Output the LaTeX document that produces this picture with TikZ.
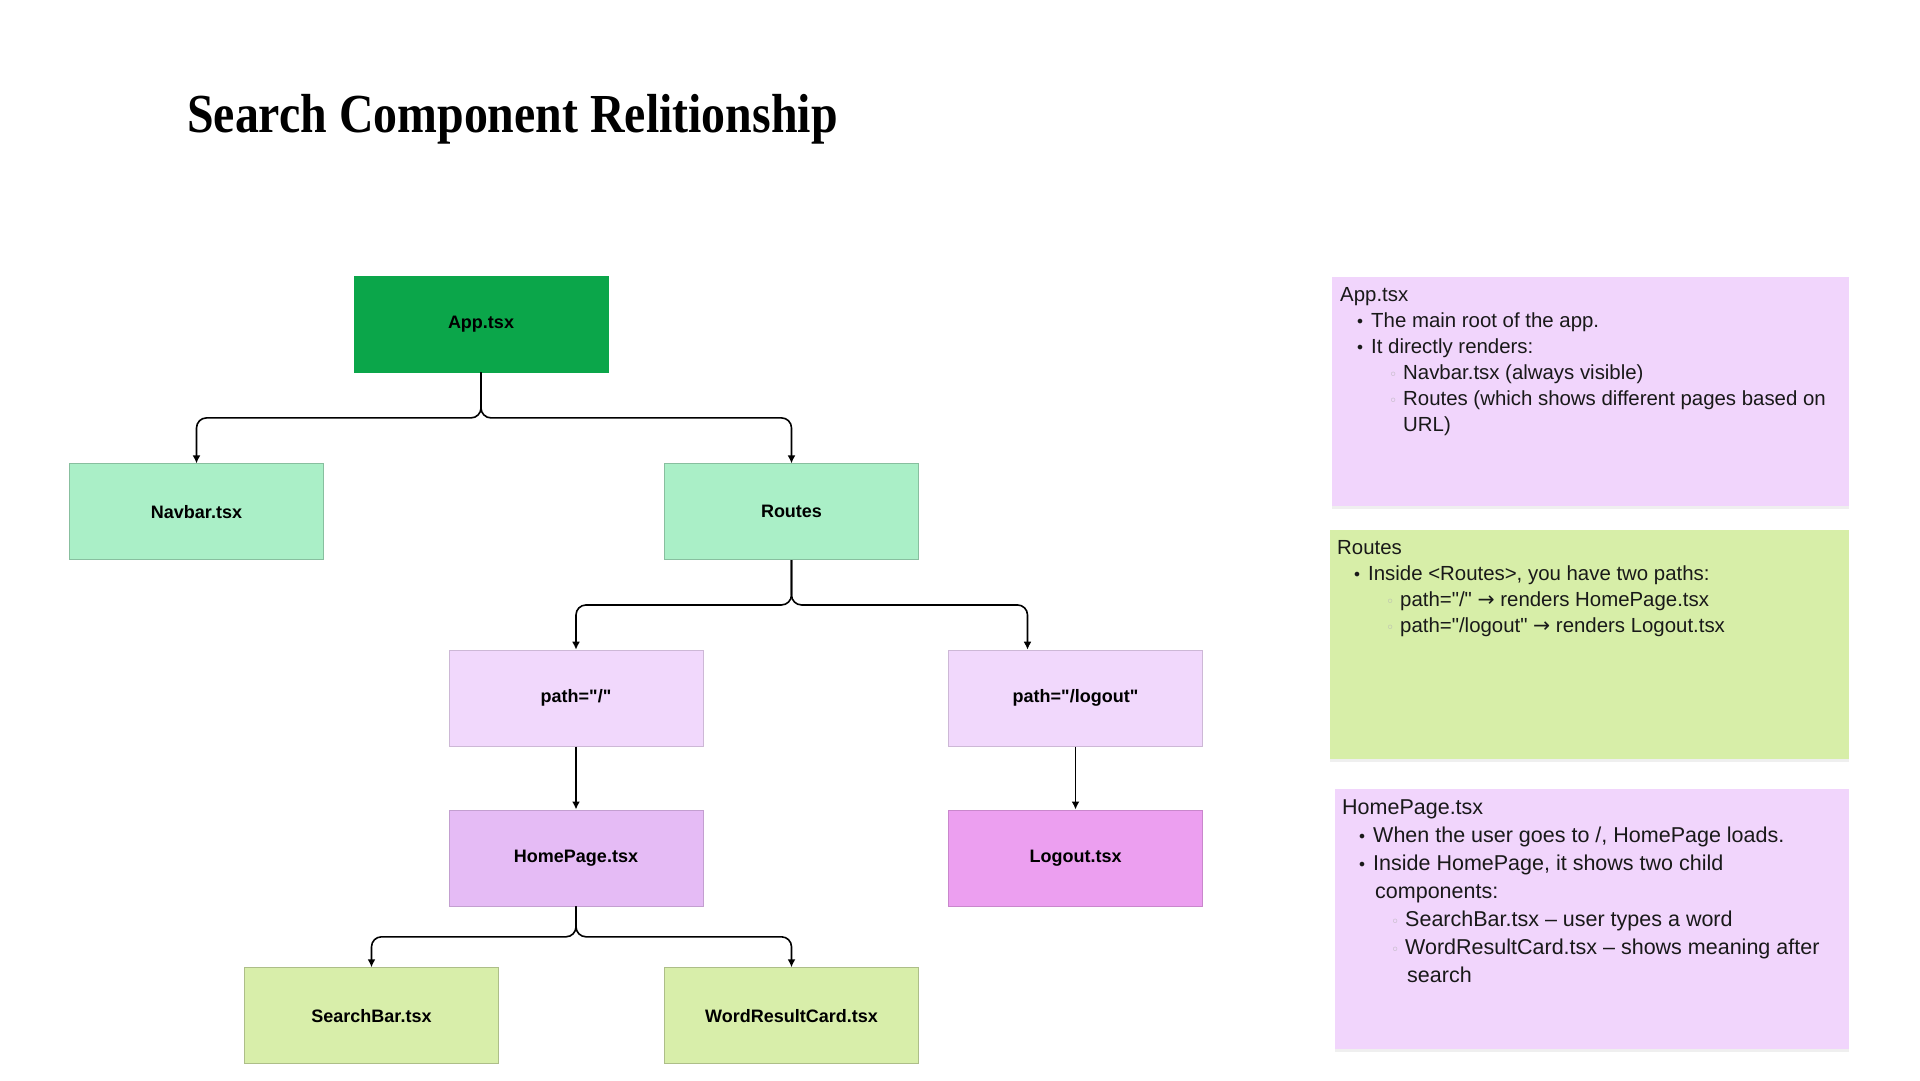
\documentclass[tikz,border=0pt]{standalone}
\usepackage{fontspec}
\setmainfont{Liberation Sans}
\newfontfamily\titlefont[FakeStretch=0.87]{Liberation Serif}
\newfontfamily\symfont{DejaVu Sans}
\usetikzlibrary{positioning,shadows,arrows.meta}
\definecolor{appgreen}{HTML}{0BA64A}
\definecolor{mint}{HTML}{AAEFC7}
\definecolor{lavender}{HTML}{F1D8FC}
\definecolor{orchid}{HTML}{E5BBF5}
\definecolor{pinkish}{HTML}{EC9FF0}
\definecolor{lime}{HTML}{D8EEAA}
\definecolor{notepurple}{HTML}{F1D5FC}
\definecolor{notegreen}{HTML}{D7EEA8}
\newcommand{\lvlone}[1]{\hspace*{15pt}\makebox[10pt][c]{\symfont\fontsize{16}{16}\selectfont •}\hspace*{6pt}#1}
\newcommand{\lvltwo}[1]{\hspace*{48pt}\makebox[10pt][c]{\textcolor{black!30}{\symfont\fontsize{14}{14}\selectfont ◦}}\hspace*{5pt}#1}
\newcommand{\rarr}{{\symfont →}}
\newcommand{\qq}{\textquotedbl}
\tikzset{
	pagetitle/.style={anchor=base west, inner sep=0pt,
		font=\titlefont\bfseries\fontsize{55}{60}\selectfont},
	comp/.style={rectangle, minimum width=254pt, minimum height=96pt,
		inner sep=0pt, line width=0.8pt, text=black,
		font=\bfseries\fontsize{18}{20}\selectfont},
	raiz/.style={comp, fill=appgreen, draw=appgreen},
	nivel1/.style={comp, fill=mint, draw=mint!80!black},
	ruta/.style={comp, fill=lavender, draw=lavender!85!black},
	pagina/.style={comp, fill=orchid, draw=orchid!85!black},
	salida/.style={comp, fill=pinkish, draw=pinkish!85!black},
	hijo/.style={comp, fill=lime, draw=lime!80!black},
	link/.style={line width=1.6pt, rounded corners=10pt,
		-{Latex[length=8pt,width=8pt]}},
	nota/.style={rectangle, anchor=north west, inner sep=0pt,
		drop shadow={shadow xshift=0pt, shadow yshift=-3pt, opacity=0.12}},
	notatexto/.style={inner sep=0pt, align=left, text=black!90,
		font=\fontsize{20.4}{26}\selectfont}
}

\begin{document}
\begin{tikzpicture}[x=1pt, y=-1pt]
	\fill[white] (0,0) rectangle (1920,1080);
	\useasboundingbox (0,0) rectangle (1920,1080);

	\node[pagetitle] (title) at (187,132) {Search Component Relitionship};

	\node[raiz] (app) at (481,324) {App.tsx};
	\node[nivel1, below=91pt of app, xshift=-284.5pt] (navbar) {Navbar.tsx};
	\node[nivel1, below=91pt of app, xshift=310.5pt] (routes) {Routes};

	\node[ruta, below=89.5pt of routes, xshift=-215.5pt] (home path) {path=\qq/\qq};
	\node[ruta, below=89.5pt of routes, xshift=284pt] (logout path) {path=\qq/logout\qq};

	\node[pagina, below=63pt of home path] (homepage) {HomePage.tsx};
	\node[salida, below=63pt of logout path] (logout) {Logout.tsx};

	\node[hijo, below=61pt of homepage, xshift=-204.5pt] (searchbar) {SearchBar.tsx};
	\node[hijo, below=61pt of homepage, xshift=215.5pt] (wordcard) {WordResultCard.tsx};

	\draw[link] (app.south) -- ++(0,45.5) -| (navbar.north);
	\draw[link] (app.south) -- ++(0,45.5) -| (routes.north);
	\draw[link] (routes.south) -- ++(0,44.75) -| (home path.north);
	\draw[link] (routes.south) -- ++(0,44.75) -| ([xshift=-48pt]logout path.north);
	\draw[link] (home path.south) -- (homepage.north);
	\draw[link] (logout path.south) -- (logout.north);
	\draw[link] (homepage.south) -- ++(0,30.5) -| (searchbar.north);
	\draw[link] (homepage.south) -- ++(0,30.5) -| (wordcard.north);

	\node[nota, fill=notepurple, minimum width=517pt, minimum height=229pt] (app note) at (1332,277) {};
	\node[notatexto, below right=10pt and 8pt of app note.north west] (app note text) {App.tsx\\
		\lvlone{The main root of the app.}\\
		\lvlone{It directly renders:}\\
		\lvltwo{Navbar.tsx (always visible)}\\
		\lvltwo{Routes (which shows different pages based on}\\
		\hspace*{63pt}URL)};

	\node[nota, fill=notegreen, minimum width=519pt, minimum height=229pt] (routes note) at (1330,530) {};
	\node[notatexto, below right=10pt and 7pt of routes note.north west] (routes note text) {Routes\\
		\lvlone{Inside <Routes>, you have two paths:}\\
		\lvltwo{path=\qq/\qq{} \rarr{} renders HomePage.tsx}\\
		\lvltwo{path=\qq/logout\qq{} \rarr{} renders Logout.tsx}};

	\node[nota, fill=notepurple, minimum width=514pt, minimum height=260pt] (home note) at (1335,789) {};
	\node[notatexto, font=\fontsize{21.5}{28}\selectfont, below right=10pt and 7pt of home note.north west] (home note text) {HomePage.tsx\\
		\lvlone{When the user goes to /, HomePage loads.}\\
		\lvlone{Inside HomePage, it shows two child}\\
		\hspace*{33pt}components:\\
		\lvltwo{SearchBar.tsx – user types a word}\\
		\lvltwo{WordResultCard.tsx – shows meaning after}\\
		\hspace*{65pt}search};
\end{tikzpicture}
\end{document}
